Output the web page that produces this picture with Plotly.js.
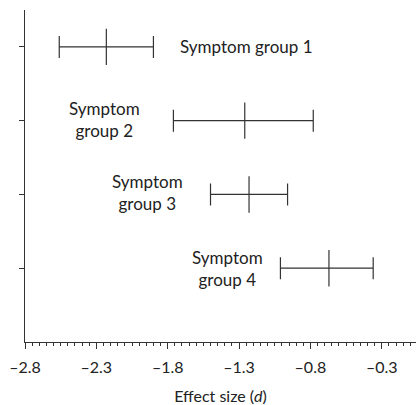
<!DOCTYPE html>
<html>
<head>
<meta charset="utf-8">
<script src="https://cdn.plot.ly/plotly-3.0.1.min.js"></script>
<style>html,body{margin:0;padding:0;background:#fff;}#chart{width:416px;height:405px;}</style>
</head>
<body>
<div id="chart"></div>
<script>
var groups = ["Symptom group 1", "Symptom group 2", "Symptom group 3", "Symptom group 4"];
var groupPos = [4, 3, 2, 1];
var effect = [-2.23, -1.26, -1.23, -0.67];
var lower = [-2.56, -1.76, -1.50, -1.01];
var upper = [-1.90, -0.78, -0.96, -0.36];
var tickVals = [-2.8, -2.3, -1.8, -1.3, -0.8, -0.3];
var tickText = ["\u20132.8", "\u20132.3", "\u20131.8", "\u20131.3", "\u20130.8", "\u20130.3"];

var col = "#333";
var font = "Lato, 'Open Sans', sans-serif";

var trace = {
  type: "scatter",
  mode: "markers",
  x: effect,
  y: groupPos,
  marker: {symbol: "line-ns-open", size: 26, color: col, line: {width: 1.2, color: col}},
  error_x: {
    type: "data", symmetric: false,
    array: effect.map(function(e, i){ return upper[i] - e; }),
    arrayminus: effect.map(function(e, i){ return e - lower[i]; }),
    color: col, thickness: 1.2, width: 11
  },
  hoverinfo: "skip",
  showlegend: false
};

var annotations = [
  {x: -1.73, y: 4, xanchor: "left", yanchor: "middle", text: groups[0]},
  {x: -2.24, y: 3.02, xanchor: "center", yanchor: "middle", text: "Symptom<br>group 2"},
  {x: -1.94, y: 2.02, xanchor: "center", yanchor: "middle", text: "Symptom<br>group 3"},
  {x: -1.38, y: 1.0, xanchor: "center", yanchor: "middle", text: "Symptom<br>group 4"}
].map(function(a){
  a.xref = "x"; a.yref = "y"; a.showarrow = false; a.align = "center";
  a.font = {family: font, size: 17, color: "#222"};
  return a;
});

var layout = {
  width: 416, height: 405,
  margin: {l: 25, r: 0, t: 10, b: 63},
  paper_bgcolor: "#fff", plot_bgcolor: "#fff",
  xaxis: {
    range: [-2.8, -0.06],
    showline: true, linecolor: col, linewidth: 1.2,
    showgrid: false, zeroline: false,
    tickmode: "array", tickvals: tickVals, ticktext: tickText,
    ticks: "outside", ticklen: 6, tickcolor: col, tickwidth: 1,
    ticklabelstandoff: 5,
    minor: {dtick: 0.05, tick0: -2.8, ticks: "outside", ticklen: 3, tickcolor: col, tickwidth: 1, showgrid: false},
    tickfont: {family: font, size: 16, color: "#222"},
    title: {text: "Effect size (<i>d</i>)", font: {family: font, size: 16, color: "#222"}, standoff: 17}
  },
  yaxis: {
    range: [0, 4.5],
    showline: true, linecolor: col, linewidth: 1.2,
    showgrid: false, zeroline: false,
    tickmode: "array", tickvals: groupPos,
    ticks: "outside", ticklen: 5, tickcolor: col, tickwidth: 1,
    showticklabels: false
  },
  annotations: annotations
};

Plotly.newPlot("chart", [trace], layout, {displayModeBar: false, staticPlot: true});
</script>
</body>
</html>
